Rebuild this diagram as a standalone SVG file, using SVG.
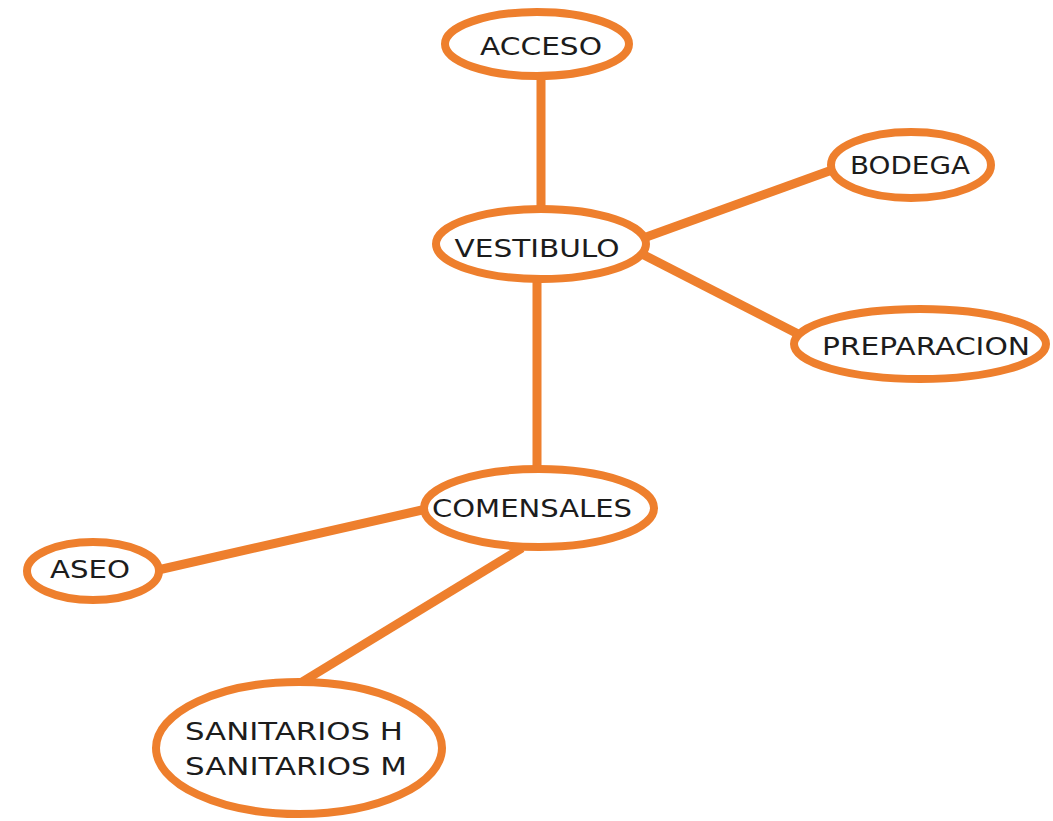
<svg xmlns="http://www.w3.org/2000/svg" width="1053" height="821" viewBox="0 0 1053 821">
<style>
.n{fill:#fff;stroke:#EE7F2D;stroke-width:8}
.c{stroke:#EE7F2D;stroke-width:9;fill:none}
text{font-family:"DejaVu Sans",Verdana,sans-serif;font-size:25px;fill:#1c1c1c;text-anchor:middle}
</style>
<rect width="1053" height="821" fill="#fff"/>
<g id="connectors">
<line class="c" x1="541" y1="78" x2="541" y2="208"/>
<line class="c" x1="638" y1="240" x2="832" y2="170"/>
<line class="c" x1="642" y1="254" x2="802" y2="336"/>
<line class="c" x1="537" y1="282" x2="537" y2="470"/>
<line class="c" x1="158" y1="570" x2="422" y2="510"/>
<line class="c" x1="522" y1="548" x2="302" y2="682"/>
</g>
<g id="acceso"><ellipse class="n" cx="537" cy="44" rx="92" ry="32"/><text x="541" y="55" textLength="122" lengthAdjust="spacingAndGlyphs">ACCESO</text></g>
<g id="vestibulo"><ellipse class="n" cx="541" cy="244" rx="105" ry="35"/><text x="537" y="257" textLength="165" lengthAdjust="spacingAndGlyphs">VESTIBULO</text></g>
<g id="bodega"><ellipse class="n" cx="911" cy="165" rx="80" ry="33"/><text x="910" y="174" textLength="120" lengthAdjust="spacingAndGlyphs">BODEGA</text></g>
<g id="preparacion"><ellipse class="n" cx="920" cy="344" rx="126" ry="35"/><text x="926" y="355" textLength="208" lengthAdjust="spacingAndGlyphs">PREPARACION</text></g>
<g id="comensales"><ellipse class="n" cx="539" cy="508" rx="115" ry="39"/><text x="532" y="517" textLength="200" lengthAdjust="spacingAndGlyphs">COMENSALES</text></g>
<g id="aseo"><ellipse class="n" cx="93" cy="571" rx="66" ry="29"/><text x="90" y="578" textLength="80" lengthAdjust="spacingAndGlyphs">ASEO</text></g>
<g id="sanitarios"><ellipse class="n" cx="299" cy="748" rx="143" ry="66"/><text x="294" y="740" textLength="218" lengthAdjust="spacingAndGlyphs">SANITARIOS H</text><text x="296" y="775" textLength="222" lengthAdjust="spacingAndGlyphs">SANITARIOS M</text></g>
</svg>
